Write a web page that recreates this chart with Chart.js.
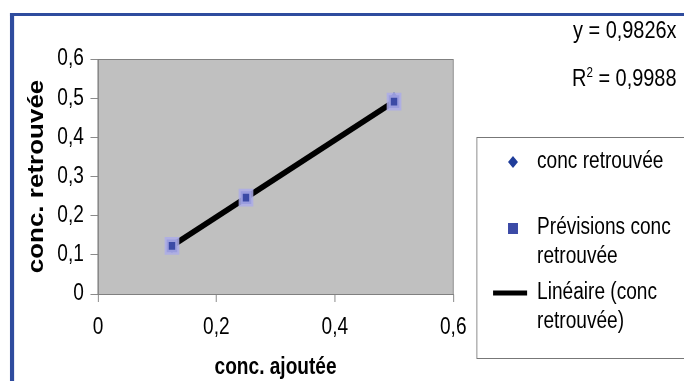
<!DOCTYPE html>
<html>
<head>
<meta charset="utf-8">
<script src="https://cdn.jsdelivr.net/npm/chart.js@4.4.1/dist/chart.umd.min.js"></script>
<style>
  html, body { margin: 0; padding: 0; background: #fff; overflow: hidden; }
  #wrap { width: 824px; height: 381px; position: relative; }
</style>
</head>
<body>
<div id="wrap"><canvas id="myChart"></canvas></div>
<script>
const ajoutee = [0.125, 0.25, 0.5];
const retrouvee = [0.12, 0.245, 0.5];
const previsions = [0.123, 0.246, 0.491];
const trendX = [0.125, 0.5];
const trendY = [0.123, 0.491];
const slopeText = "0,9826";
const r2Text = "0,9988";

// the original export is squeezed horizontally, everything is drawn
// on a wider canvas and scaled down in x
const SX = 684 / 824;
const FONT = "'Liberation Sans', Arial, sans-serif";

function pts(xs, ys) {
  return xs.map((x, i) => ({ x: x, y: ys[i] }));
}

const fmt = (v) => String(Math.round(v * 10) / 10).replace(".", ",");

function drawLegend(ctx, datasets) {
  ctx.strokeStyle = "#777";
  ctx.lineWidth = 1;
  ctx.strokeRect(574.5, 137.5, 300, 221);

  ctx.font = "23px " + FONT;
  ctx.textBaseline = "middle";
  ctx.textAlign = "left";

  const wrap = (text, maxW) => {
    const words = text.split(" ");
    const lines = [];
    let cur = "";
    words.forEach((w) => {
      const t = cur ? cur + " " + w : w;
      if (ctx.measureText(t).width > maxW && cur) {
        lines.push(cur);
        cur = w;
      } else cur = t;
    });
    lines.push(cur);
    return lines;
  };

  const rows = [162, 228, 293];
  datasets.forEach((d, i) => {
    const y = rows[i];
    if (d.type === "line") {
      ctx.strokeStyle = d.borderColor;
      ctx.lineWidth = 5;
      ctx.beginPath();
      ctx.moveTo(594, y);
      ctx.lineTo(635, y);
      ctx.stroke();
    } else if (d.pointStyle === "rectRot") {
      ctx.fillStyle = d.backgroundColor;
      ctx.beginPath();
      ctx.moveTo(618, y - 6);
      ctx.lineTo(624, y);
      ctx.lineTo(618, y + 6);
      ctx.lineTo(612, y);
      ctx.closePath();
      ctx.fill();
    } else {
      ctx.fillStyle = d.backgroundColor;
      ctx.fillRect(612, y - 5, 12, 11);
    }
    ctx.fillStyle = "#000";
    wrap(d.label, 175).forEach((line, k) => {
      ctx.fillText(line, 647, y + k * 29);
    });
  });
}

function drawEquation(ctx) {
  const right = 815;
  ctx.fillStyle = "#000";
  ctx.textAlign = "right";
  ctx.textBaseline = "alphabetic";
  ctx.font = "24px " + FONT;
  ctx.fillText("y = " + slopeText + "x", right, 38);
  const rest = " = " + r2Text;
  const restW = ctx.measureText(rest).width;
  ctx.fillText(rest, right, 86);
  ctx.font = "14px " + FONT;
  const supW = ctx.measureText("2").width;
  ctx.fillText("2", right - restW, 77);
  ctx.font = "24px " + FONT;
  ctx.fillText("R", right - restW - supW, 86);
}

// page: squeeze, white page, blue frame, grey plot area, legend box, equation
const page = {
  id: "page",
  beforeDraw(chart) {
    const { ctx, chartArea: a } = chart;
    ctx.save();
    ctx.scale(SX, 1);
    ctx.fillStyle = "#fff";
    ctx.fillRect(0, 0, chart.width, chart.height);
    ctx.fillStyle = "#2f4c9e";
    ctx.fillRect(12, 13, chart.width - 12, 3);
    ctx.fillRect(12, 13, 5, chart.height - 13);
    ctx.fillStyle = "#c0c0c0";
    ctx.fillRect(a.left, a.top, a.right - a.left, a.bottom - a.top);
    ctx.strokeStyle = "#808080";
    ctx.lineWidth = 1;
    ctx.strokeRect(a.left, a.top + 0.5, a.right - a.left, a.bottom - a.top);
  },
  afterDraw(chart) {
    const ctx = chart.ctx;
    const ds = chart.data.datasets;
    ctx.save();
    drawLegend(ctx, legendOrder.map((i) => ds[i]));
    drawEquation(ctx);
    ctx.restore();
    ctx.restore();
  },
};

const data = {
  datasets: [
    {
      label: "Prévisions conc retrouvée",
      data: pts(ajoutee, previsions),
      pointStyle: "rect",
      pointRadius: 9,
      backgroundColor: "#3b4aa6",
      borderColor: "rgba(172, 172, 232, 0.85)",
      borderWidth: 5,
      showLine: false,
    },
    {
      label: "conc retrouvée",
      data: pts(ajoutee, retrouvee),
      pointStyle: "rectRot",
      pointRadius: 6,
      backgroundColor: "#1f3d9a",
      borderColor: "#1f3d9a",
      borderWidth: 0,
      showLine: false,
    },
    {
      type: "line",
      label: "Linéaire (conc retrouvée)",
      data: pts(trendX, trendY),
      borderColor: "#000",
      borderWidth: 6,
      pointRadius: 0,
      fill: false,
    },
  ],
};

// legend order in the picture
const legendOrder = [1, 0, 2];

const config = {
  type: "scatter",
  data: data,
  options: {
    responsive: true,
    maintainAspectRatio: false,
    animation: false,
    events: [],
    layout: {
      padding: { top: 59, right: 278, bottom: 0, left: 0 },
    },
    scales: {
      x: {
        type: "linear",
        min: 0,
        max: 0.6,
        afterFit: (s) => { s.height = 87; },
        ticks: {
          stepSize: 0.2,
          padding: 12,
          color: "#000",
          font: { family: FONT, size: 23 },
          callback: fmt,
        },
        grid: { drawOnChartArea: false, tickLength: 8, color: "#808080" },
        border: { color: "#808080" },
        title: {
          display: true,
          text: "conc. ajoutée",
          color: "#000",
          font: { family: FONT, size: 23, weight: "bold" },
          padding: { top: 0, bottom: 0 },
        },
      },
      y: {
        min: 0,
        max: 0.6,
        afterFit: (s) => { s.width = 118; },
        ticks: {
          stepSize: 0.1,
          padding: 8,
          color: "#000",
          font: { family: FONT, size: 23 },
          callback: fmt,
        },
        grid: { drawOnChartArea: false, tickLength: 9, color: "#808080" },
        border: { color: "#808080" },
        title: {
          display: true,
          text: "conc. retrouvée",
          color: "#000",
          font: { family: FONT, size: 26, weight: "bold" },
          padding: { top: 29, bottom: 0 },
        },
      },
    },
    plugins: {
      legend: { display: false },
      tooltip: { enabled: false },
    },
  },
  plugins: [page],
};

const myChart = new Chart(document.getElementById("myChart").getContext("2d"), config);
</script>
</body>
</html>
